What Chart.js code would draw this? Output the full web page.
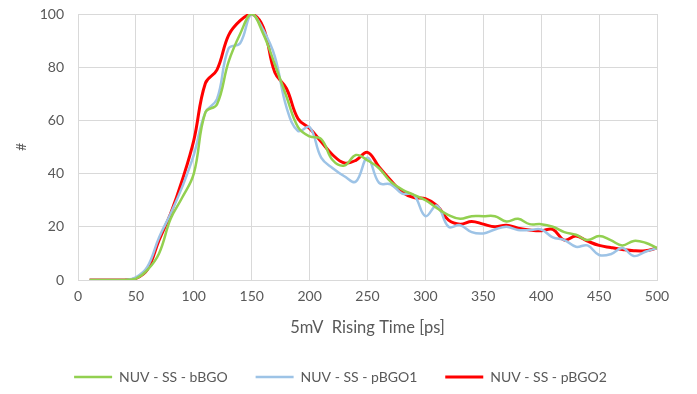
<!DOCTYPE html>
<html>
<head>
<meta charset="utf-8">
<script src="https://cdn.jsdelivr.net/npm/chart.js@4"></script>
<style>
  html, body { margin: 0; padding: 0; background: #fff; }
  #wrap { width: 697px; height: 394px; }
</style>
</head>
<body>
<div id="wrap"><canvas id="riseChart" width="697" height="394"></canvas></div>
<script>
// rising time bins [ps]
const times = [10, 20, 30, 40, 50, 60, 70, 80, 90, 100,
  110, 120, 130, 140, 150, 160, 170, 180, 190, 200,
  210, 220, 230, 240, 250, 260, 270, 280, 290, 300,
  310, 320, 330, 340, 350, 360, 370, 380, 390, 400,
  410, 420, 430, 440, 450, 460, 470, 480, 490, 500];

const bBGO = [0, 0, 0, 0, 0.5, 3.8, 10, 23, 31, 40,
  63, 66, 82, 92.5, 100, 92.5, 81, 69, 57.5, 54,
  53, 45, 43, 47, 45, 42, 37, 34, 32, 30,
  27, 24.4, 23, 24, 24, 24, 22, 23, 21, 21,
  20, 18, 17, 15, 16.5, 15, 13, 14.7, 14, 12];

const pBGO1 = [0, 0, 0, 0, 1, 5, 16, 25, 35, 47,
  63, 68, 87, 89, 100, 94, 84, 65, 56, 57.5,
  46, 42, 39, 37, 46, 36.5, 36, 32.5, 32, 24,
  28, 20, 20.6, 18, 17.5, 19, 20, 18.8, 18.8, 19,
  16, 15, 12.5, 13, 9.4, 9.7, 12, 9, 10.6, 12];

const pBGO2 = [0, 0, 0, 0, 0.6, 4, 15, 25, 37.5, 52.5,
  74, 79, 92, 97.5, 100, 95, 78, 72, 60.6, 57,
  52, 47, 44, 45, 48, 42.5, 37.5, 33, 31, 30.6,
  28, 22.5, 21, 22, 21, 20, 20.6, 19.5, 18.8, 18.5,
  19, 15, 16.5, 14.6, 13, 12.2, 11.5, 11, 11, 12];

const seriesNames = ["NUV - SS - bBGO", "NUV - SS - pBGO1", "NUV - SS - pBGO2"];
const seriesColors = ["#92d050", "#9dc3e6", "#ff0000"];

const xTicks = [0, 50, 100, 150, 200, 250, 300, 350, 400, 450, 500];
const yTicks = [0, 20, 40, 60, 80, 100];

const textColor = "#595959";
const gridColor = "#d9d9d9";
const fontFamily = "Lato, 'Open Sans', sans-serif";

function toPoints(vals) {
    return vals.map((v, i) => ({ x: times[i], y: v }));
}

// nudge the legend a bit to the right, like the original sheet
const legendNudge = {
    id: "legendNudge",
    afterLayout(chart) {
        chart.legend.left += 12;
        chart.legend.right += 12;
    }
};

const ctx = document.getElementById("riseChart").getContext("2d");

const riseChart = new Chart(ctx, {
    type: "line",
    data: {
        datasets: [
            { label: seriesNames[0], data: toPoints(bBGO), borderColor: seriesColors[0], backgroundColor: seriesColors[0], borderWidth: 2.5 },
            { label: seriesNames[1], data: toPoints(pBGO1), borderColor: seriesColors[1], backgroundColor: seriesColors[1], borderWidth: 2.5 },
            { label: seriesNames[2], data: toPoints(pBGO2), borderColor: seriesColors[2], backgroundColor: seriesColors[2], borderWidth: 3 }
        ]
    },
    options: {
        responsive: false,
        animation: false,
        elements: {
            point: { radius: 0 },
            line: { tension: 0.4, fill: false }
        },
        layout: { padding: { left: 0, right: 40, top: 14, bottom: 0 } },
        scales: {
            x: {
                type: "linear",
                min: 0,
                max: 500,
                afterBuildTicks: s => { s.ticks = xTicks.map(v => ({ value: v })); },
                afterFit: s => { s.height = 62; },
                grid: { color: gridColor, lineWidth: 1, drawTicks: false },
                border: { color: gridColor },
                ticks: { color: textColor, font: { family: fontFamily, size: 14 }, padding: 8, maxRotation: 0 },
                title: { display: true, text: "5mV  Rising Time [ps]", color: textColor, font: { family: fontFamily, size: 16.5 }, padding: { top: 0, bottom: 4 } }
            },
            y: {
                min: 0,
                max: 100,
                afterBuildTicks: s => { s.ticks = yTicks.map(v => ({ value: v })); },
                afterFit: s => { s.width = 78; },
                grid: { color: gridColor, lineWidth: 1, drawTicks: true, tickLength: 14, tickColor: "rgba(0,0,0,0)" },
                border: { color: gridColor },
                ticks: { color: textColor, font: { family: fontFamily, size: 14 }, padding: 0 },
                title: { display: true, text: "#", color: textColor, font: { family: fontFamily, size: 14 }, padding: { top: 13.5, bottom: 0 } }
            }
        },
        plugins: {
            legend: {
                position: "bottom",
                maxHeight: 52,
                labels: {
                    color: textColor,
                    font: { family: fontFamily, size: 14 },
                    usePointStyle: true,
                    pointStyle: "line",
                    pointStyleWidth: 38,
                    padding: 28
                }
            },
            tooltip: { enabled: false }
        }
    },
    plugins: [legendNudge]
});
</script>
</body>
</html>
